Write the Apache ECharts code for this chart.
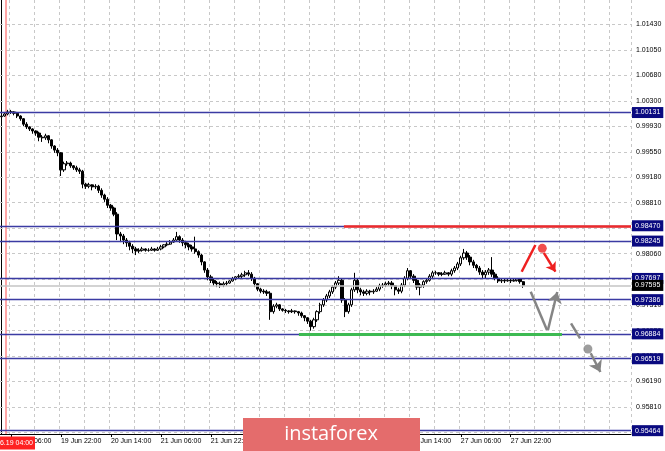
<!DOCTYPE html>
<html><head><meta charset="utf-8">
<script src="https://cdn.jsdelivr.net/npm/echarts@6/dist/echarts.min.js"></script>
<style>html,body{margin:0;padding:0;background:#fff}#c{width:665px;height:451px}</style>
</head><body><div id="c"></div><script>
// ---- data (USDCHF H1) ----
const opens = [
1.0007,1.0008,1.0011,1.0014,1.0014,1.0012,1.0008,1.0004,0.9996,0.9992,
0.9989,0.9986,0.9983,0.9977,0.9976,0.9979,0.9973,0.9964,0.9958,0.9954,
0.9929,0.9938,0.9939,0.9935,0.9932,0.9929,0.9927,0.9908,0.9905,0.9907,
0.9904,0.9905,0.9899,0.9892,0.9886,0.9877,0.9873,0.9864,0.9835,0.9832,
0.9826,0.9822,0.9817,0.9813,0.9810,0.9811,0.9813,0.9811,0.9811,0.9813,
0.9811,0.9813,0.9816,0.9819,0.9820,0.9823,0.9826,0.9831,0.9826,0.9822,
0.9819,0.9816,0.9813,0.9809,0.9804,0.9794,0.9782,0.9772,0.9767,0.9763,
0.9762,0.9760,0.9762,0.9763,0.9766,0.9769,0.9772,0.9773,0.9775,0.9778,
0.9776,0.9770,0.9762,0.9754,0.9751,0.9750,0.9748,0.9721,0.9729,0.9731,
0.9725,0.9723,0.9722,0.9721,0.9722,0.9721,0.9719,0.9715,0.9712,0.9707,
0.9699,0.9709,0.9721,0.9731,0.9738,0.9744,0.9750,0.9757,0.9763,0.9767,
0.9738,0.9721,0.9731,0.9753,0.9767,0.9753,0.9750,0.9748,0.9751,0.9750,
0.9751,0.9754,0.9759,0.9760,0.9762,0.9763,0.9759,0.9753,0.9751,0.9760,
0.9770,0.9781,0.9773,0.9767,0.9757,0.9760,0.9765,0.9767,0.9773,0.9778,
0.9778,0.9776,0.9776,0.9778,0.9776,0.9781,0.9785,0.9791,0.9800,0.9807,
0.9801,0.9794,0.9789,0.9785,0.9779,0.9775,0.9779,0.9782,0.9776,0.9770,
0.9766,0.9767,0.9766,0.9767,0.9766,0.9767,0.9769,0.9765];
const closes = [
1.0008,1.0011,1.0014,1.0014,1.0012,1.0008,1.0004,0.9996,0.9992,0.9989,
0.9986,0.9983,0.9977,0.9976,0.9979,0.9973,0.9964,0.9958,0.9954,0.9929,
0.9938,0.9939,0.9935,0.9932,0.9929,0.9927,0.9908,0.9905,0.9907,0.9904,
0.9905,0.9899,0.9892,0.9886,0.9877,0.9873,0.9864,0.9835,0.9832,0.9826,
0.9822,0.9817,0.9813,0.9810,0.9811,0.9813,0.9811,0.9811,0.9813,0.9811,
0.9813,0.9816,0.9819,0.9820,0.9823,0.9826,0.9831,0.9826,0.9822,0.9819,
0.9816,0.9813,0.9809,0.9804,0.9794,0.9782,0.9772,0.9767,0.9763,0.9762,
0.9760,0.9762,0.9763,0.9766,0.9769,0.9772,0.9773,0.9775,0.9778,0.9776,
0.9770,0.9762,0.9754,0.9751,0.9750,0.9748,0.9721,0.9729,0.9731,0.9725,
0.9723,0.9722,0.9721,0.9722,0.9721,0.9719,0.9715,0.9712,0.9707,0.9699,
0.9709,0.9721,0.9731,0.9738,0.9744,0.9750,0.9757,0.9763,0.9767,0.9738,
0.9721,0.9731,0.9753,0.9767,0.9753,0.9750,0.9748,0.9751,0.9750,0.9751,
0.9754,0.9759,0.9760,0.9762,0.9763,0.9759,0.9753,0.9751,0.9760,0.9770,
0.9781,0.9773,0.9767,0.9757,0.9760,0.9765,0.9767,0.9773,0.9778,0.9778,
0.9776,0.9776,0.9778,0.9776,0.9781,0.9785,0.9791,0.9800,0.9807,0.9801,
0.9794,0.9789,0.9785,0.9779,0.9775,0.9779,0.9782,0.9776,0.9770,0.9766,
0.9767,0.9766,0.9767,0.9766,0.9767,0.9769,0.9765,0.97595];
const lows = [
1.0004,1.0007,1.0009,1.0011,1.0009,1.0005,1.0001,0.9993,0.9989,0.9986,
0.9982,0.9979,0.9971,0.9970,0.9973,0.9968,0.9960,0.9954,0.9949,0.9920,
0.9926,0.9935,0.9932,0.9929,0.9926,0.9923,0.9902,0.9901,0.9902,0.9899,
0.9901,0.9895,0.9888,0.9882,0.9873,0.9869,0.9861,0.9826,0.9823,0.9820,
0.9816,0.9811,0.9807,0.9804,0.9807,0.9809,0.9809,0.9809,0.9810,0.9809,
0.9810,0.9811,0.9814,0.9817,0.9819,0.9822,0.9825,0.9822,0.9817,0.9814,
0.9811,0.9809,0.9806,0.9800,0.9789,0.9778,0.9767,0.9763,0.9759,0.9757,
0.9756,0.9757,0.9759,0.9762,0.9765,0.9767,0.9769,0.9770,0.9772,0.9773,
0.9766,0.9757,0.9751,0.9748,0.9747,0.9744,0.9709,0.9718,0.9726,0.9722,
0.9721,0.9719,0.9718,0.9719,0.9718,0.9715,0.9712,0.9707,0.9703,0.9693,
0.9696,0.9706,0.9718,0.9728,0.9735,0.9741,0.9747,0.9754,0.9760,0.9734,
0.9713,0.9718,0.9728,0.9750,0.9748,0.9745,0.9744,0.9745,0.9745,0.9747,
0.9750,0.9751,0.9756,0.9757,0.9759,0.9754,0.9745,0.9747,0.9748,0.9757,
0.9767,0.9769,0.9763,0.9753,0.9745,0.9756,0.9762,0.9765,0.9770,0.9775,
0.9773,0.9773,0.9775,0.9773,0.9773,0.9778,0.9782,0.9788,0.9797,0.9797,
0.9789,0.9785,0.9781,0.9775,0.9770,0.9770,0.9775,0.9772,0.9767,0.9763,
0.9763,0.9763,0.9765,0.9763,0.9765,0.9765,0.9762,0.9756];
const highs = [
1.0011,1.0014,1.0017,1.0017,1.0015,1.0014,1.0009,1.0005,0.9999,0.9993,
0.9990,0.9987,0.9985,0.9980,0.9982,0.9980,0.9974,0.9965,0.9961,0.9955,
0.9941,0.9942,0.9941,0.9936,0.9935,0.9932,0.9929,0.9910,0.9910,0.9908,
0.9908,0.9907,0.9902,0.9894,0.9889,0.9879,0.9875,0.9867,0.9838,0.9835,
0.9829,0.9825,0.9820,0.9816,0.9814,0.9816,0.9814,0.9814,0.9816,0.9814,
0.9816,0.9819,0.9820,0.9823,0.9826,0.9829,0.9838,0.9833,0.9829,0.9825,
0.9822,0.9819,0.9831,0.9811,0.9806,0.9795,0.9785,0.9775,0.9769,0.9766,
0.9765,0.9765,0.9766,0.9767,0.9772,0.9773,0.9776,0.9778,0.9781,0.9782,
0.9779,0.9772,0.9763,0.9756,0.9754,0.9753,0.9751,0.9732,0.9734,0.9732,
0.9726,0.9725,0.9723,0.9725,0.9723,0.9722,0.9721,0.9716,0.9713,0.9709,
0.9712,0.9723,0.9734,0.9741,0.9747,0.9753,0.9760,0.9766,0.9773,0.9769,
0.9741,0.9734,0.9756,0.9778,0.9770,0.9756,0.9753,0.9754,0.9753,0.9754,
0.9757,0.9762,0.9763,0.9765,0.9766,0.9766,0.9760,0.9756,0.9763,0.9773,
0.9785,0.9782,0.9776,0.9769,0.9763,0.9767,0.9770,0.9776,0.9781,0.9781,
0.9779,0.9779,0.9781,0.9779,0.9784,0.9788,0.9794,0.9803,0.9813,0.9810,
0.9804,0.9797,0.9791,0.9788,0.9782,0.9782,0.9785,0.9801,0.9779,0.9773,
0.9769,0.9769,0.9769,0.9769,0.9769,0.9770,0.9770,0.9766];

const yTickLabels = ['1.01430','1.01050','1.00680','1.00300','0.99930','0.99550','0.99180','0.98810',
  '0.98440','0.98060','0.97690','0.97310','0.96930','0.96560','0.96190','0.95810','0.95440'];
const levelLabels = ['1.00131','0.98470','0.98245','0.97697','0.97386','0.96884','0.96519','0.95464'];
const currentLabel = '0.97595';
const resistance = 0.98470, resistanceFrom = 109.6;
const support = 0.96884, supportFrom = 95.2, supportTo = 179.4;
const cursorIndex = 1.4, cursorLabel = '2019.06.19 04:00';
// annotation strokes in (bar index, price)
const redStroke = [[166.5, 0.97796], [170.9, 0.98188]];
const redArrow = [[173.6, 0.98071], [177.3, 0.97796]];
const redDot = [173.1, 0.98139];
const grayStroke = [[169.4, 0.97503], [174.6, 0.96941]];
const grayArrowUp = [[174.9, 0.96941], [177.9, 0.97498]];
const grayDash = [[182.3, 0.97039], [185.2, 0.96819]];
const grayDot = [187.7, 0.96662];
const grayArrowDown = [[188.6, 0.96599], [191.7, 0.96325]];

const SLOTS = 202;
const X0 = -0.5, X1 = SLOTS - 0.5;
const yMin = 0.95415, yMax = 1.01782;
const months = ['Jan','Feb','Mar','Apr','May','Jun','Jul','Aug','Sep','Oct','Nov','Dec'];
const categories = [];
let t = Date.UTC(2019, 5, 19, 3);
while (categories.length < SLOTS) {
  const d = new Date(t);
  const wd = d.getUTCDay();
  if (wd !== 0 && wd !== 6) {
    categories.push(String(d.getUTCDate()).padStart(2,'0') + ' ' + months[d.getUTCMonth()] + ' ' +
      String(d.getUTCHours()).padStart(2,'0') + ':00');
  }
  t += 3600000;
}
const candles = opens.map((o, i) => [o, closes[i], lows[i], highs[i]]);
const FONT = 'Liberation Sans';
const showLab = (i) => i >= 3 && (i - 3) % 16 === 0 && i < closes.length;
const hLine = (label, extra) => Object.assign({ name: label,
  coords: [[X0, Number(label)], [X1, Number(label)]] }, extra || {});

const chart = echarts.init(document.getElementById('c'));
chart.setOption({
  animation: false,
  backgroundColor: '#ffffff',
  grid: { left: 0, right: 34, top: 0, bottom: 17 },
  xAxis: [{
    type: 'category', data: categories, boundaryGap: true,
    axisLine: { show: true, lineStyle: { color: '#000', width: 1 } },
    axisTick: { show: true, alignWithLabel: true, length: 3, interval: (i) => showLab(i), lineStyle: { color: '#000' } },
    axisLabel: { interval: (i) => showLab(i), align: 'left', margin: 4, fontSize: 7, fontFamily: FONT, color: '#000' },
    splitLine: { show: true, interval: (i) => (i - 3) % 8 === 0, lineStyle: { color: '#c8c8c8', type: [3, 3], width: 1 } }
  }, {
    type: 'value', min: X0, max: X1, show: false
  }],
  yAxis: {
    type: 'value', position: 'right', min: yMin, max: yMax,
    axisLine: { show: true, lineStyle: { color: '#000', width: 1 } },
    axisTick: { show: false }, axisLabel: { show: false }, splitLine: { show: false }
  },
  graphic: [
    { type: 'text', z: 100, style: { text: cursorLabel, x: 35, y: 443, align: 'right', verticalAlign: 'middle',
      fill: '#fff', font: '7px "Liberation Sans"', backgroundColor: '#ff2222', padding: [3, 2, 3, 2] } },
    { type: 'rect', z: 100, shape: { x: 243, y: 418, width: 177, height: 33 }, style: { fill: '#e46c6c' } },
    { type: 'text', z: 101, style: { text: 'instaforex', x: 331, y: 434, align: 'center', verticalAlign: 'middle',
      fill: '#fff', font: '20px "Open Sans"' } }
  ],
  series: [
    { // grid + price scale labels
      type: 'lines', coordinateSystem: 'cartesian2d', xAxisIndex: 1, yAxisIndex: 0, z: 1, silent: true, clip: false,
      symbol: 'none',
      lineStyle: { color: '#c8c8c8', type: [3, 3], width: 1, opacity: 1 },
      label: { show: true, position: 'end', distance: 5, fontSize: 7, fontFamily: FONT, color: '#000', formatter: '{b}' },
      data: yTickLabels.map((s) => hLine(s))
    },
    { // cursor line
      type: 'lines', coordinateSystem: 'cartesian2d', xAxisIndex: 1, yAxisIndex: 0, z: 2, silent: true,
      symbol: 'none',
      lineStyle: { opacity: 1 },
      data: [{ coords: [[cursorIndex, yMin], [cursorIndex, yMax]], lineStyle: { color: '#ff9090', width: 1.6 } }]
    },
    {
      type: 'candlestick', data: candles, z: 3, barWidth: 2.8,
      itemStyle: { color: '#ffffff', color0: '#000000', borderColor: '#000000', borderColor0: '#000000', borderWidth: 1 }
    },
    { // level lines with boxed labels
      type: 'lines', coordinateSystem: 'cartesian2d', xAxisIndex: 1, yAxisIndex: 0, z: 4, silent: true, clip: false,
      symbol: 'none',
      lineStyle: { color: '#3b3ba3', width: 1.4, opacity: 1 },
      label: { show: true, position: 'end', distance: 1, fontSize: 7, fontFamily: FONT, color: '#fff',
        backgroundColor: '#0a0a80', padding: [2, 3, 2, 3], formatter: '{b}' },
      data: levelLabels.map((s) => hLine(s)).concat([hLine(currentLabel, { lineStyle: { color: '#c4c4c4', width: 1.5 },
          label: { backgroundColor: '#000' } })])
    },
    { // red resistance / green support segments and strokes
      type: 'lines', coordinateSystem: 'cartesian2d', xAxisIndex: 1, yAxisIndex: 0, z: 5, silent: true,
      symbol: 'none',
      lineStyle: { width: 2.5, opacity: 1 },
      data: [
        { coords: [[resistanceFrom, resistance], [X1, resistance]], lineStyle: { color: '#ee2a2a', width: 2.5 } },
        { coords: [[supportFrom, support], [supportTo, support]], lineStyle: { color: '#3dba52', width: 3 } },
        { coords: redStroke, lineStyle: { color: '#ee2020', width: 2.5 } },
        { coords: grayStroke, lineStyle: { color: '#858585', width: 2.5 } },
        { coords: grayDash, lineStyle: { color: '#858585', width: 2.5 } }
      ]
    },
    {
      type: 'lines', coordinateSystem: 'cartesian2d', xAxisIndex: 1, yAxisIndex: 0, z: 6, silent: true,
      symbol: ['none', 'arrow'], symbolSize: 9,
      lineStyle: { width: 2.5, opacity: 1, color: '#ee2020' }, itemStyle: { color: '#ee2020' },
      data: [{ coords: redArrow }]
    },
    {
      type: 'lines', coordinateSystem: 'cartesian2d', xAxisIndex: 1, yAxisIndex: 0, z: 6, silent: true,
      symbol: ['none', 'arrow'], symbolSize: 11,
      lineStyle: { width: 2.5, opacity: 1, color: '#858585' }, itemStyle: { color: '#858585' },
      data: [{ coords: grayArrowUp }, { coords: grayArrowDown }]
    },
    {
      type: 'scatter', xAxisIndex: 1, yAxisIndex: 0, z: 6, silent: true, symbolSize: 9,
      data: [{ value: redDot, itemStyle: { color: '#ee2020' } }, { value: grayDot, itemStyle: { color: '#858585' } }]
    }
  ]
});
</script></body></html>
